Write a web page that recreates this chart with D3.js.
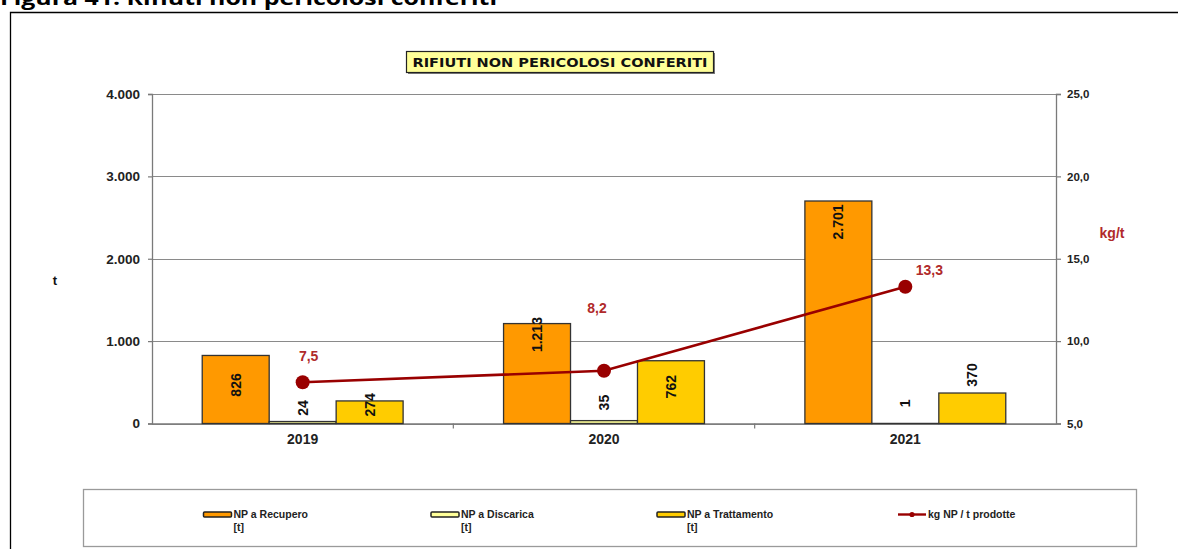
<!DOCTYPE html>
<html>
<head>
<meta charset="utf-8">
<script src="https://cdn.jsdelivr.net/npm/d3@7"></script>
<style>
  html, body { margin: 0; padding: 0; background: #fff; }
  svg { display: block; }
</style>
</head>
<body>
<svg id="chart" width="1178" height="549"></svg>
<script>
// Data
const years = ["2019", "2020", "2021"];
const recupero = [826, 1213, 2701];
const discarica = [24, 35, 1];
const trattamento = [274, 762, 370];
const kgPerT = [7.5, 8.2, 13.3];
const leftTicks = [0, 1000, 2000, 3000, 4000];
const rightTicks = [5, 10, 15, 20, 25];
const seriesNames = ["NP a Recupero", "NP a Discarica", "NP a Trattamento"];
const lineName = "kg NP / t prodotte";

// Layout
const W = 1178, H = 549;
const plot = { left: 152, right: 1056, top: 94, bottom: 423.5 };
const colors = ["#FF9900", "#FFFF99", "#FFCC00"];
const lineColor = "#990000";
const labelRed = "#B02A2A";
const FONT = "'Liberation Sans', Arial, sans-serif";

// vertical offset of each rotated bar label centre from the bar top (px, down = +)
const barLabelShift = [
  [29.5, 11, 21],
  [-13.5, -18, -20],
  [4, 26, -18]
];
// offsets of the kg/t value labels from their points
const lineLabelShift = [[6, -26], [-7, -63], [24, -17]];

const it = d3.formatLocale({ decimal: ",", thousands: ".", grouping: [3], currency: ["€", ""] });
const fmtT = it.format(",.0f");
const fmtK = it.format(".1f");

const svg = d3.select("#chart");

// caption above the frame
svg.append("text")
  .attr("x", 0).attr("y", 5)
  .attr("font-family", "'Open Sans', 'Noto Sans', sans-serif")
  .attr("font-weight", 700)
  .attr("font-size", 19)
  .attr("textLength", 497)
  .attr("lengthAdjust", "spacingAndGlyphs")
  .attr("fill", "#000")
  .text("Figura 41: Rifiuti non pericolosi conferiti");

// chart frame
svg.append("path")
  .attr("d", `M10.5,${H + 2} V12.5 H${W + 2}`)
  .attr("fill", "none").attr("stroke", "#000").attr("stroke-width", 1.3);

// scales
const x = d3.scaleBand().domain(years).range([plot.left, plot.right]).padding(0);
const xs = d3.scaleBand().domain(seriesNames).range([0, x.bandwidth()]).paddingInner(0).paddingOuter(0.75);
const y = d3.scaleLinear().domain([0, 4000]).range([plot.bottom, plot.top]);
const y2 = d3.scaleLinear().domain([5, 25]).range([plot.bottom, plot.top]);

// gridlines
svg.append("g")
  .selectAll("line").data(leftTicks).join("line")
  .attr("x1", plot.left).attr("x2", plot.right)
  .attr("y1", d => Math.round(y(d)) + 0.5).attr("y2", d => Math.round(y(d)) + 0.5)
  .attr("stroke", "#8a8a8a").attr("stroke-width", 1);

// left axis
const gL = svg.append("g").attr("transform", `translate(${plot.left},0)`)
  .call(d3.axisLeft(y).tickValues(leftTicks).tickFormat(fmtT).tickSize(4).tickPadding(8));
// right axis
const gR = svg.append("g").attr("transform", `translate(${plot.right},0)`)
  .call(d3.axisRight(y2).tickValues(rightTicks).tickFormat(fmtK).tickSize(5).tickPadding(6));
// bottom axis
const gB = svg.append("g").attr("transform", `translate(0,${plot.bottom})`)
  .call(d3.axisBottom(x).tickSize(0).tickPadding(11));

[gL, gR, gB].forEach(g => {
  g.select(".domain").attr("stroke", "#7a7a7a").attr("stroke-width", 1.3);
  g.selectAll(".tick line").attr("stroke", "#7a7a7a").attr("stroke-width", 1.2);
  g.selectAll("text").attr("font-family", FONT).attr("font-weight", 700).attr("fill", "#222");
});
gL.selectAll("text").attr("font-size", 13.5);
gR.selectAll("text").attr("font-size", 11.5);
gB.selectAll("text").attr("font-size", 14);

// category separators on the x axis
svg.append("g").selectAll("line").data(years.slice(1)).join("line")
  .attr("x1", d => x(d)).attr("x2", d => x(d))
  .attr("y1", plot.bottom).attr("y2", plot.bottom + 5)
  .attr("stroke", "#7a7a7a").attr("stroke-width", 1.2);

// bars
const seriesData = [recupero, discarica, trattamento];
seriesData.forEach((vals, si) => {
  const g = svg.append("g");
  g.selectAll("rect").data(vals).join("rect")
    .attr("x", (d, i) => x(years[i]) + xs(seriesNames[si]))
    .attr("y", d => y(d))
    .attr("width", xs.bandwidth())
    .attr("height", d => plot.bottom - y(d))
    .attr("fill", colors[si])
    .attr("stroke", "#333")
    .attr("stroke-width", 1.3);
});

// bar value labels (rotated)
seriesData.forEach((vals, si) => {
  svg.append("g").selectAll("text").data(vals).join("text")
    .attr("transform", (d, i) => {
      const cx = x(years[i]) + xs(seriesNames[si]) + xs.bandwidth() / 2;
      const cy = y(d) + barLabelShift[si][i];
      return `translate(${cx},${cy}) rotate(-90)`;
    })
    .attr("text-anchor", "middle")
    .attr("dy", "0.36em")
    .attr("font-family", FONT).attr("font-weight", 700).attr("font-size", 14)
    .attr("fill", "#111")
    .text(d => fmtT(d));
});

// kg/t line
const line = d3.line()
  .x((d, i) => x(years[i]) + x.bandwidth() / 2)
  .y(d => y2(d));
svg.append("path").datum(kgPerT)
  .attr("d", line)
  .attr("fill", "none").attr("stroke", lineColor).attr("stroke-width", 2.6);
svg.append("g").selectAll("circle").data(kgPerT).join("circle")
  .attr("cx", (d, i) => x(years[i]) + x.bandwidth() / 2)
  .attr("cy", d => y2(d))
  .attr("r", 7)
  .attr("fill", lineColor);
svg.append("g").selectAll("text").data(kgPerT).join("text")
  .attr("x", (d, i) => x(years[i]) + x.bandwidth() / 2 + lineLabelShift[i][0])
  .attr("y", (d, i) => y2(d) + lineLabelShift[i][1])
  .attr("dy", "0.36em")
  .attr("text-anchor", "middle")
  .attr("font-family", FONT).attr("font-weight", 700).attr("font-size", 14)
  .attr("fill", labelRed)
  .text(d => fmtK(d));

// axis titles
svg.append("text").attr("x", 55).attr("y", 280).attr("dy", "0.36em")
  .attr("text-anchor", "middle")
  .attr("font-family", FONT).attr("font-weight", 700).attr("font-size", 13)
  .attr("fill", "#111").text("t");
svg.append("text").attr("x", 1112).attr("y", 233).attr("dy", "0.36em")
  .attr("text-anchor", "middle")
  .attr("font-family", FONT).attr("font-weight", 700).attr("font-size", 14)
  .attr("fill", labelRed).text("kg/t");

// chart title box
const tb = { x: 406, y: 51, w: 307, h: 21 };
svg.append("rect").attr("x", tb.x + 2).attr("y", tb.y + 2).attr("width", tb.w).attr("height", tb.h)
  .attr("fill", "#7a7a7a");
svg.append("rect").attr("x", tb.x + 0.5).attr("y", tb.y + 0.5).attr("width", tb.w).attr("height", tb.h)
  .attr("fill", "#FFFF99").attr("stroke", "#222").attr("stroke-width", 1.2);
svg.append("text").attr("x", tb.x + tb.w / 2 + 0.5).attr("y", tb.y + tb.h / 2 + 1)
  .attr("dy", "0.36em").attr("text-anchor", "middle")
  .attr("font-family", "'DejaVu Sans', Verdana, sans-serif").attr("font-weight", 700)
  .attr("font-size", 12).attr("textLength", 295).attr("lengthAdjust", "spacingAndGlyphs")
  .attr("fill", "#111").text("RIFIUTI NON PERICOLOSI CONFERITI");

// legend
const lg = { x: 83.5, y: 489.5, w: 1053, h: 57 };
svg.append("rect").attr("x", lg.x).attr("y", lg.y).attr("width", lg.w).attr("height", lg.h)
  .attr("fill", "#fff").attr("stroke", "#9a9a9a").attr("stroke-width", 1.3);
const legendX = [203.5, 431, 657, 898];
const swW = 28, rowY = 514.5;
seriesNames.forEach((name, i) => {
  const g = svg.append("g").attr("transform", `translate(${legendX[i]},${rowY})`);
  g.append("rect").attr("x", 0).attr("y", -2.5).attr("width", swW).attr("height", 5)
    .attr("rx", 1).attr("fill", colors[i]).attr("stroke", "#222").attr("stroke-width", 1.5);
  g.append("text").attr("x", swW + 2).attr("y", 0).attr("dy", "0.36em")
    .attr("font-family", FONT).attr("font-weight", 700).attr("font-size", 10.5)
    .attr("fill", "#222").text(name);
  g.append("text").attr("x", swW + 2).attr("y", 12.5).attr("dy", "0.36em")
    .attr("font-family", FONT).attr("font-weight", 700).attr("font-size", 10.5)
    .attr("fill", "#222").text("[t]");
});
const gl = svg.append("g").attr("transform", `translate(${legendX[3]},${rowY})`);
gl.append("line").attr("x1", 0).attr("x2", swW).attr("y1", 0).attr("y2", 0)
  .attr("stroke", lineColor).attr("stroke-width", 2.4);
gl.append("circle").attr("cx", swW / 2).attr("cy", 0).attr("r", 2.6).attr("fill", lineColor);
gl.append("text").attr("x", swW + 2).attr("y", 0).attr("dy", "0.36em")
  .attr("font-family", FONT).attr("font-weight", 700).attr("font-size", 10.5)
  .attr("fill", "#222").text(lineName);
</script>
</body>
</html>
